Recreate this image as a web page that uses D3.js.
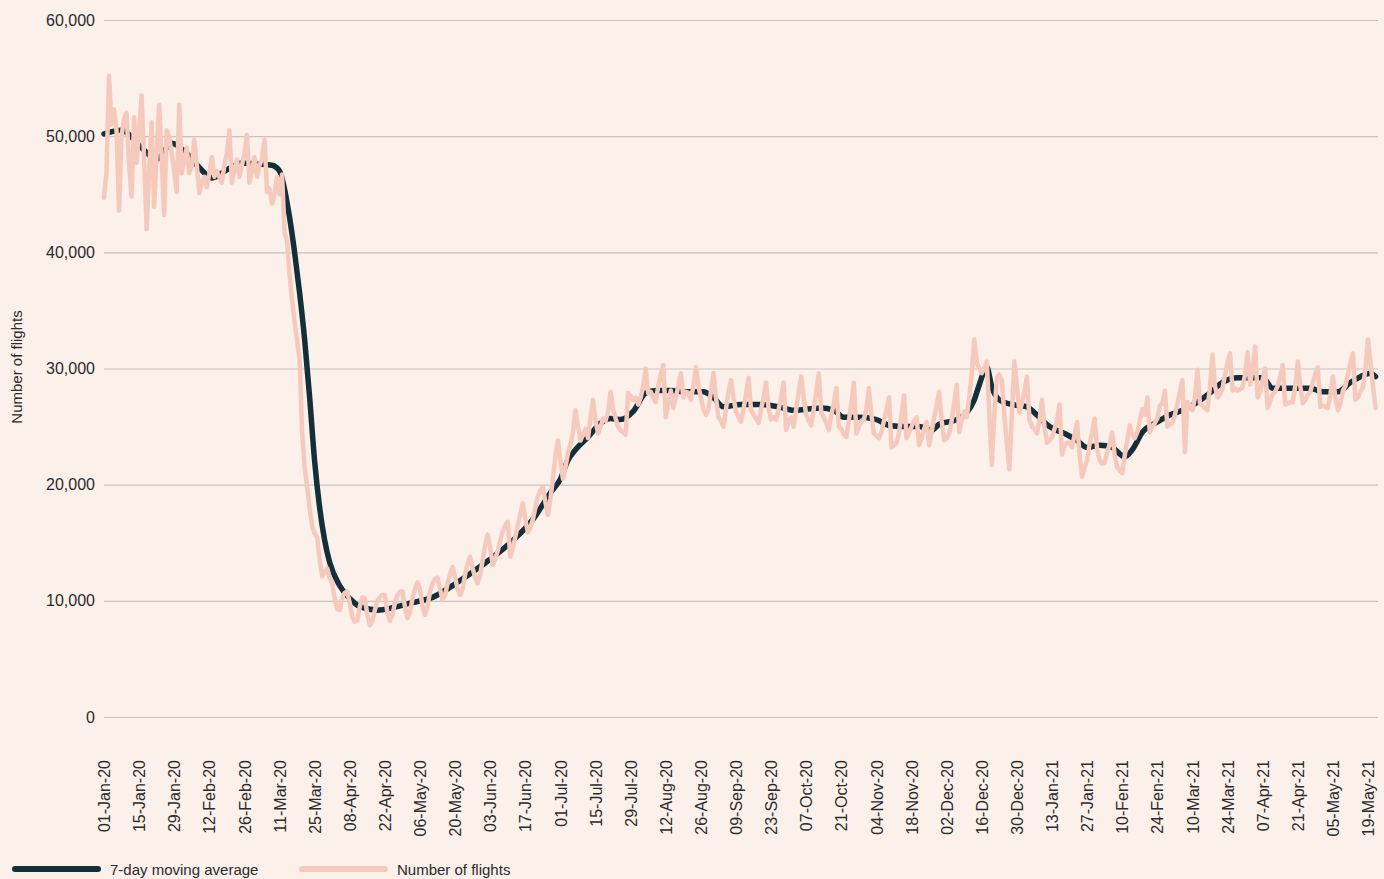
<!DOCTYPE html>
<html>
<head>
<meta charset="utf-8">
<script src="https://cdn.jsdelivr.net/npm/d3@7"></script>
<style>
  html, body { margin: 0; padding: 0; background: #fbf0ea; }
  svg { display: block; font-family: "Liberation Sans", Arial, sans-serif; }
</style>
</head>
<body>
<svg id="chart" width="1384" height="879"></svg>
<script>
// daily flights, starting 01-Jan-20 (one row = one week)
flights = [
  44700, 47000, 55200, 51000, 52300, 50500, 43600,
  50000, 51500, 52000, 47500, 44800, 51600, 47700,
  50500, 53500, 48000, 42000, 47000, 51200, 43900,
  48500, 52700, 48000, 43200, 50500, 49900, 48500,
  47000, 45200, 52700, 46800, 48000, 49000, 46800,
  47500, 49700, 47500, 45100, 46000, 46500, 45600,
  46800, 48200, 46500, 47000, 46500, 46000, 47500,
  48500, 50500, 46000, 47000, 48000, 46500, 47500,
  48500, 50100, 46000, 47000, 48200, 46500, 47500,
  48000, 49700, 45200, 45500, 44200, 45000, 46500,
  45000, 46700, 41700, 41000, 38000, 35900, 34000,
  32400, 30700, 24500, 21500, 19800, 18000, 16400,
  15800, 15500, 13500, 12100, 12500, 12800, 12000,
  11500, 10200, 9300, 9200, 10300, 10700, 10800,
  9800, 8600, 8200, 8300, 9500, 10300, 10200,
  8800, 7900, 8200, 9200, 10000, 10300, 10500,
  10500, 9000, 8300, 8800, 9800, 10500, 10800,
  10800, 9500, 8500, 9000, 10200, 11000, 11600,
  11000, 9500, 8800, 9500, 10800, 11500, 11900,
  12000, 11000, 10100, 10500, 11500, 12300, 12900,
  12000, 11000, 10500, 11000, 12300, 13200, 13800,
  12800, 12000, 11500, 12300, 13500, 14800, 15700,
  14500, 13100, 13600, 14300, 15200, 16000, 16500,
  16800, 13800, 14500, 15500, 16500, 17500, 18400,
  17000, 15900, 16300, 17000, 18000, 19000, 19500,
  19800, 18500, 17400, 18800, 20500, 22500, 23800,
  22000, 20500, 21500, 22700, 23500, 24500, 26400,
  25000, 23800, 24300, 24800, 24000, 25800, 27300,
  25500, 24400, 25000, 25700, 25500, 26300, 28000,
  26500, 25700, 25000, 24700, 24500, 24300, 27900,
  27600, 27300, 27500, 26900, 27500, 28500, 30000,
  27900, 28000, 27500, 27100, 28500, 29500, 30300,
  25800, 27000, 28100, 26600, 27500, 28500, 29600,
  27500, 28000, 27900, 27300, 28500, 30100, 28500,
  27500, 26500, 26000, 26500, 28000, 29600, 27500,
  25800, 25500, 25000, 26500, 28000, 29000, 27500,
  26300, 25800, 25400, 26500, 27800, 29200, 26400,
  26000, 25700, 25300, 26500, 27500, 28800, 26500,
  25600, 25800, 25600, 26500, 27500, 28800, 24700,
  25500, 25800, 25000, 26500, 28000, 29300, 27500,
  26000, 25500, 25100, 26500, 28000, 29600, 26200,
  25800, 25300, 24700, 26000, 27000, 28300, 25000,
  24800, 24300, 24100, 25500, 27000, 28800, 24400,
  25000, 25500, 25600, 26500, 28300, 26000, 24400,
  24200, 24000, 24500, 25500, 26500, 27500, 23200,
  23400, 23600, 24500, 26000, 27700, 24000, 24500,
  25000, 25500, 25800, 23400, 24000, 24800, 25400,
  23400, 24500, 25800, 26800, 28000, 25500, 23800,
  24000, 24400, 25500, 27000, 28600, 24500, 25500,
  26300, 25800, 27500, 29500, 32500, 30500, 30000,
  29600, 30000, 30600, 26000, 21700, 26000, 29200,
  29500, 29000, 26000, 23500, 21300, 26000, 30600,
  28500, 26200, 27000, 28000, 29300, 25600, 25000,
  24800, 24400, 25500, 27300, 25000, 23600, 23800,
  24100, 24800, 25500, 26900, 22600, 23400, 23600,
  23600, 23200, 24300, 25400, 22500, 20700, 21500,
  22100, 23500, 24500, 25700, 23000, 22100, 21800,
  21900, 22800, 23500, 24500, 22500, 21500, 21200,
  21000, 22500, 23800, 25100, 24300, 24000, 24500,
  25500, 26500, 26000, 27500, 24500, 25000, 25300,
  25700, 26800, 27000, 28100, 25000, 25200, 25300,
  26000, 27000, 28000, 29000, 22800, 27100, 26800,
  26400, 27500, 29900, 27000, 26800, 26600, 26400,
  28500, 31200, 28500, 27500, 27800, 28300, 29500,
  30500, 31300, 28100, 28300, 28100, 28200, 28400,
  29500, 31400, 28600, 30000, 31900, 27500, 28000,
  29000, 30000, 26600, 27200, 27800, 28000, 28500,
  29300, 30300, 26900, 27000, 27100, 27100, 28500,
  30600, 28500, 27000, 27300, 27700, 28000, 28800,
  29500, 30100, 26700, 26800, 26700, 26600, 27800,
  29300, 27500, 26400, 27000, 28100, 28500, 29500,
  30500, 31300, 27300, 27500, 28000, 28400, 30000,
  32500, 30500, 28500, 26600
];

// 7-day moving average, read at these day offsets from 01-Jan-20
maDays = [0, 7, 15, 21, 27, 33, 38, 43, 49, 55, 61, 67, 70, 74, 76, 78, 80, 82, 84, 86, 88, 90, 94, 98,
  102, 109, 115, 122, 131, 141, 151, 162, 171, 178, 182, 185, 188, 193, 198, 202, 206, 211, 216, 220,
  226, 232, 239, 243, 247, 254, 262, 269, 275, 280, 286, 291, 295, 301, 308, 313, 320, 325, 330, 333,
  340, 344, 347, 349, 352, 354, 357, 362, 368, 372, 377, 384, 388, 392, 397, 402, 407, 410, 414, 420,
  425, 430, 436, 441, 446, 452, 457, 462, 466, 470, 476, 481, 486, 492, 497, 501, 505, 507];
maValues = [50200, 50500, 49000, 48000, 49400, 48500, 47300, 46400, 47100, 47700, 47600, 47500, 47000,
  43000, 40000, 36500, 32500, 27500, 22000, 18000, 15200, 13300, 11300, 10200,
  9500, 9200, 9400, 9800, 10300, 11600, 13100, 15000, 17000, 19300, 20500, 22100, 23000, 24100,
  25300, 25700, 25600, 26300, 27900, 28100, 28100, 28000, 28000, 27500, 26700, 26900, 26900, 26700,
  26400, 26500, 26600, 26400, 25800, 25800, 25600, 25100, 25000, 25000, 24700, 25200, 25600, 26200,
  27300, 28600, 30100, 28400, 27300, 26900, 26700, 26000, 25000, 24300, 23800, 23200, 23400, 23200,
  22400, 23000, 24500, 25400, 26000, 26400, 27100, 27900, 28800, 29200, 29200, 29200, 28300, 28300,
  28300, 28300, 28000, 28000, 28800, 29300, 29600, 29300];

yTicks = [0, 10000, 20000, 30000, 40000, 50000, 60000];
xTickLabels = ["01-Jan-20", "15-Jan-20", "29-Jan-20", "12-Feb-20", "26-Feb-20", "11-Mar-20", "25-Mar-20",
  "08-Apr-20", "22-Apr-20", "06-May-20", "20-May-20", "03-Jun-20", "17-Jun-20", "01-Jul-20", "15-Jul-20",
  "29-Jul-20", "12-Aug-20", "26-Aug-20", "09-Sep-20", "23-Sep-20", "07-Oct-20", "21-Oct-20", "04-Nov-20",
  "18-Nov-20", "02-Dec-20", "16-Dec-20", "30-Dec-20", "13-Jan-21", "27-Jan-21", "10-Fen-21", "24-Fen-21",
  "10-Mar-21", "24-Mar-21", "07-Apr-21", "21-Apr-21", "05-May-21", "19-May-21"];

start = new Date(2020, 0, 1);

svg = d3.select('#chart');

// plot area
plot = { left: 104, right: 1368, gridEnd: 1378, top: 20, bottom: 717 };

x = d3.scaleTime()
  .domain([start, d3.timeDay.offset(start, 504)])
  .range([plot.left, plot.right]);

y = d3.scaleLinear()
  .domain([0, 60000])
  .range([plot.bottom, plot.top]);

// gridlines + y labels
yAxis = svg.append('g')
  .attr('transform', `translate(${plot.left},0)`)
  .call(d3.axisLeft(y).tickValues(yTicks).tickSize(-(plot.gridEnd - plot.left)).tickPadding(9)
    .tickFormat(d3.format(',')));
yAxis.select('.domain').remove();
yAxis.selectAll('.tick line').attr('stroke', '#c9c3be').attr('stroke-width', 1.2);
yAxis.selectAll('.tick text').attr('fill', '#2b2b2b').style('font-size', '16px');

// x labels, every two weeks
xTickDates = xTickLabels.map((d, i) => d3.timeDay.offset(start, i * 14));
xAxis = svg.append('g')
  .attr('transform', `translate(0,${plot.bottom})`)
  .call(d3.axisBottom(x).tickValues(xTickDates).tickSize(0)
    .tickFormat((d, i) => xTickLabels[i]));
xAxis.select('.domain').remove();
xAxis.selectAll('.tick text')
  .attr('fill', '#2b2b2b')
  .style('font-size', '16px')
  .attr('text-anchor', 'end')
  .attr('transform', 'rotate(-90)')
  .attr('x', -43)
  .attr('y', 0)
  .attr('dy', '0.35em');

// y axis title
svg.append('text')
  .attr('transform', 'translate(22,367) rotate(-90)')
  .attr('text-anchor', 'middle')
  .attr('fill', '#2b2b2b')
  .style('font-size', '15px')
  .text('Number of flights');

// moving average line
maLine = d3.line()
  .x((d, i) => x(d3.timeDay.offset(start, maDays[i])))
  .y(d => y(d))
  .curve(d3.curveMonotoneX);

svg.append('path')
  .datum(maValues)
  .attr('fill', 'none')
  .attr('stroke', '#132f3a')
  .attr('stroke-width', 5.5)
  .attr('stroke-linejoin', 'round')
  .attr('stroke-linecap', 'round')
  .attr('d', maLine);

// daily flights line
flightLine = d3.line()
  .x((d, i) => x(d3.timeDay.offset(start, i)))
  .y(d => y(d));

svg.append('path')
  .datum(flights)
  .attr('fill', 'none')
  .attr('stroke', '#f5cabd')
  .attr('stroke-width', 4.5)
  .attr('stroke-linejoin', 'round')
  .attr('stroke-linecap', 'round')
  .attr('d', flightLine);

// legend
legend = [
  { label: '7-day moving average', color: '#132f3a', x: 15 },
  { label: 'Number of flights', color: '#f5cabd', x: 302 }
];
lg = svg.selectAll('.legend').data(legend).enter().append('g')
  .attr('class', 'legend')
  .attr('transform', d => `translate(${d.x},869)`);
lg.append('line')
  .attr('x1', 0).attr('x2', 83)
  .attr('stroke', d => d.color)
  .attr('stroke-width', 6)
  .attr('stroke-linecap', 'round');
lg.append('text')
  .attr('x', 95)
  .attr('dy', '0.4em')
  .attr('fill', '#2b2b2b')
  .style('font-size', '15px')
  .text(d => d.label);
</script>
</body>
</html>
